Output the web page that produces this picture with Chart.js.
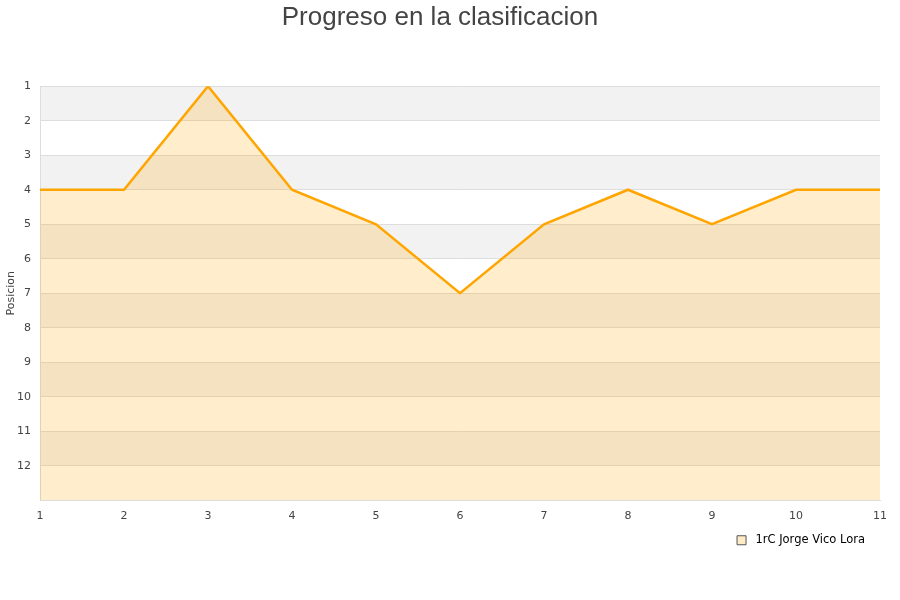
<!DOCTYPE html>
<html>
<head>
<meta charset="utf-8">
<script src="https://cdn.jsdelivr.net/npm/chart.js@4"></script>
<style>
  body { margin: 0; background: #fff; }
  #wrap { width: 900px; height: 600px; }
</style>
</head>
<body>
<div id="wrap"><canvas id="chart-1" width="900" height="600"></canvas></div>
<script>
// jornadas y posiciones
const jornadas = [1, 2, 3, 4, 5, 6, 7, 8, 9, 10, 11];
const posiciones = [4, 4, 1, 4, 5, 7, 5, 4, 5, 4, 4];
const jugador = "1rC Jorge Vico Lora";

// bandas alternas gris / blanco
const bandas = {
  id: "bandas",
  afterLayout(chart) {
    // leyenda un poco mas a la izquierda
    chart.legend.right -= 4;
  },
  beforeDraw(chart) {
    const { ctx, chartArea, scales } = chart;
    const y = scales.y;
    ctx.save();
    for (let v = 1; v < 13; v += 2) {
      const y1 = y.getPixelForValue(v);
      const y2 = y.getPixelForValue(v + 1);
      ctx.fillStyle = "#f2f2f2";
      ctx.fillRect(chartArea.left, y1, chartArea.right - chartArea.left, y2 - y1);
    }
    ctx.restore();
  },
};

const ctx1 = document.getElementById("chart-1").getContext("2d");
const myChart = new Chart(ctx1, {
  type: "line",
  data: {
    datasets: [
      {
        label: jugador,
        data: jornadas.map((j, i) => ({ x: j, y: posiciones[i] })),
        borderColor: "#ffa500",
        backgroundColor: "rgba(255, 165, 0, 0.2)",
        borderWidth: 2.5,
        pointRadius: 0,
        fill: "start",
        tension: 0,
      },
    ],
  },
  options: {
    responsive: false,
    animation: false,
    layout: { padding: { left: 0, right: 20, top: 2, bottom: 44 } },
    scales: {
      x: {
        type: "linear",
        min: 1,
        max: 11,
        ticks: { stepSize: 1, color: "#444", font: { size: 11, family: "DejaVu Sans" }, padding: 1 },
        grid: { display: false },
        border: { color: "#ddd" },
      },
      y: {
        reverse: true,
        min: 1,
        max: 13,
        ticks: {
          stepSize: 1,
          color: "#444",
          padding: 9,
          font: { size: 11, family: "DejaVu Sans" },
          callback: (v) => (v === 13 ? "" : v),
        },
        grid: { color: "#dddddd", drawTicks: false },
        border: { color: "#ddd" },
        title: { display: true, text: "Posicion", color: "#444", font: { size: 11, family: "DejaVu Sans" }, padding: { top: 5, bottom: 0 } },
        afterFit(scale) { scale.width = 40; },
      },
    },
    plugins: {
      title: {
        display: true,
        text: "Progreso en la clasificacion",
        color: "#444",
        font: { size: 26, weight: "normal", family: "Liberation Sans" },
        padding: { top: 0, bottom: 53 },
      },
      legend: {
        position: "bottom",
        align: "end",
        labels: {
          color: "#000",
          font: { size: 11.5, family: "DejaVu Sans" },
          boxWidth: 9,
          boxHeight: 9,
          padding: 11,
          generateLabels: (chart) => [{
            text: " " + jugador,
            fillStyle: "#ffebc8",
            strokeStyle: "#555",
            lineWidth: 1,
            datasetIndex: 0,
          }],
        },
      },
      tooltip: { enabled: false },
    },
  },
  plugins: [bandas],
});
</script>
</body>
</html>
